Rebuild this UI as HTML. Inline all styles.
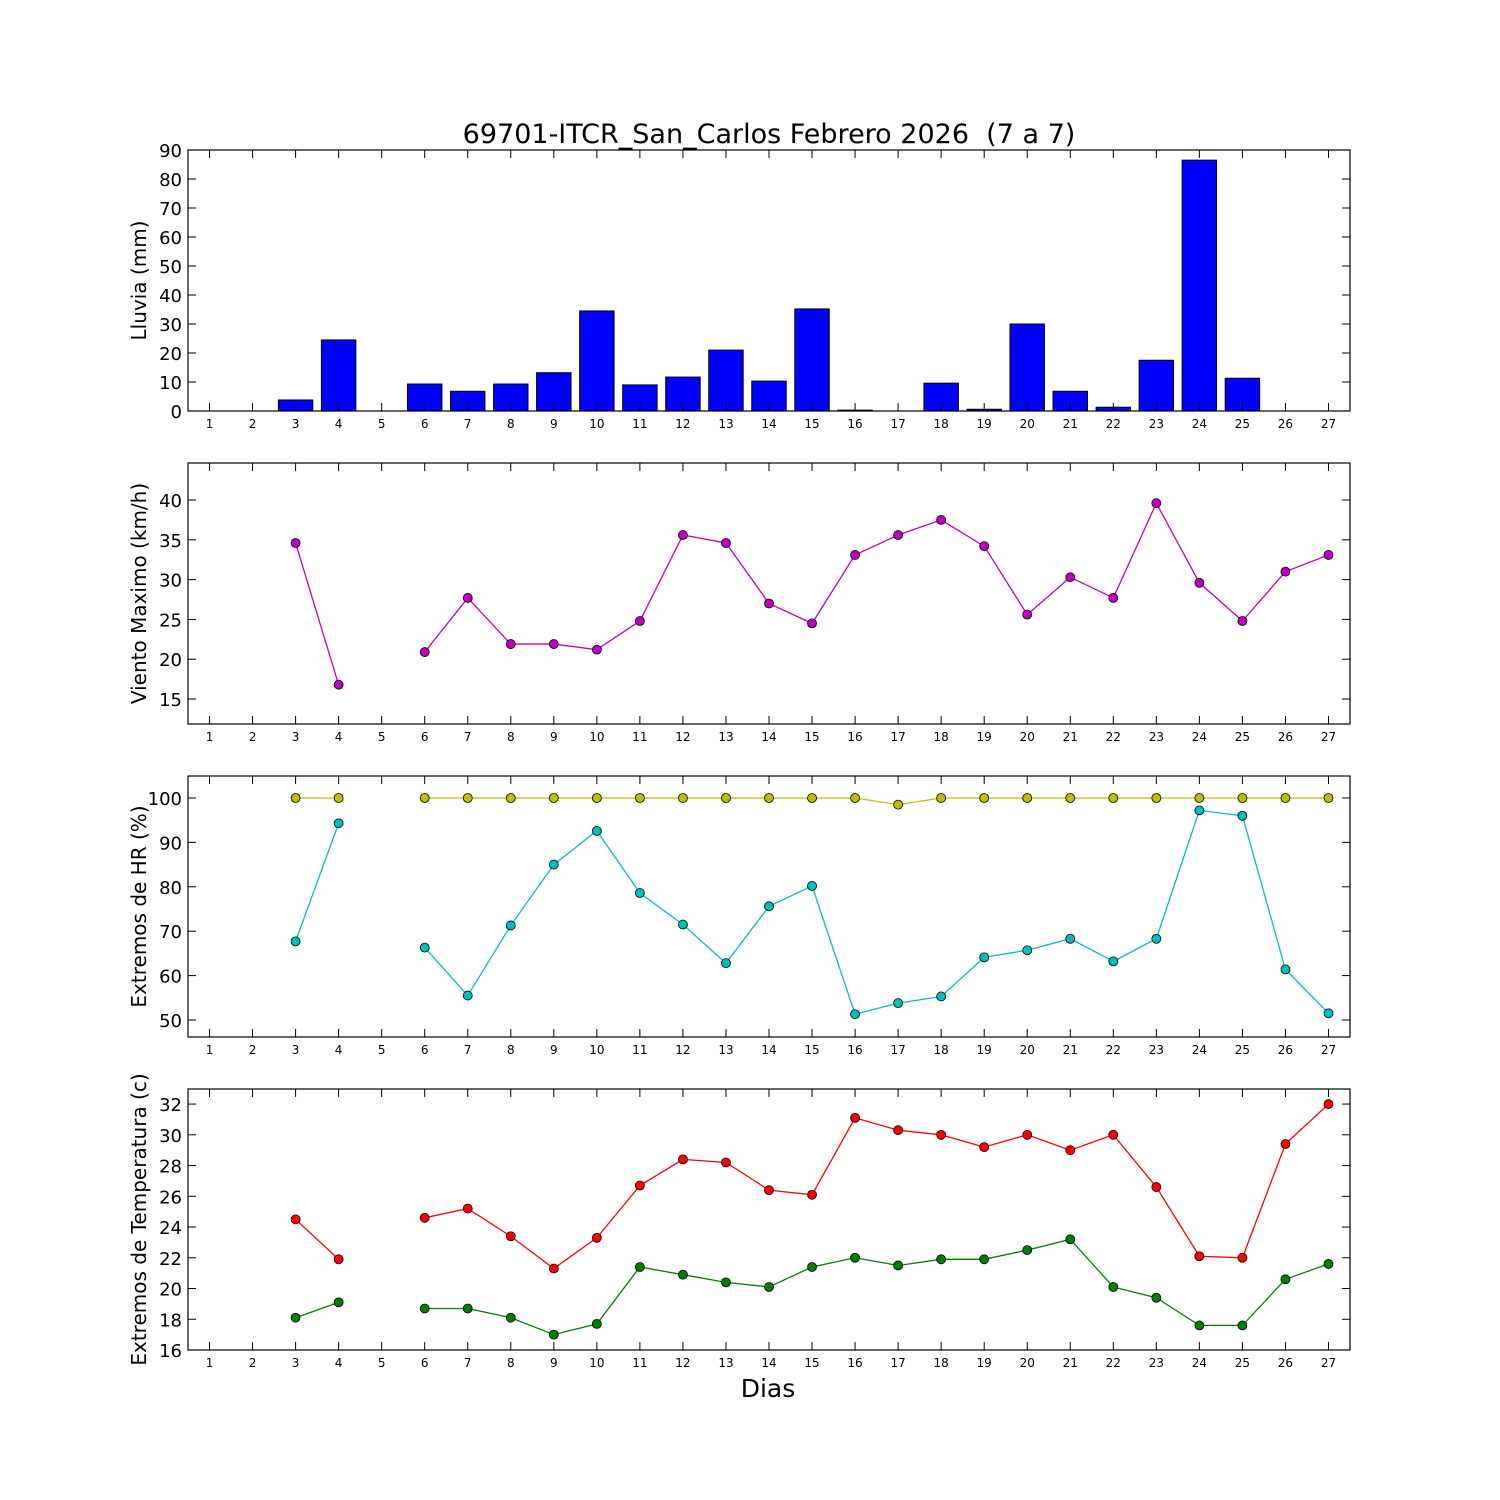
<!DOCTYPE html>
<html><head><meta charset="utf-8"><style>body{margin:0;background:#fff}svg{display:block}</style></head>
<body>
<svg id="chart" width="1500" height="1500" xmlns="http://www.w3.org/2000/svg" font-family="DejaVu Sans, Liberation Sans, sans-serif"></svg>
<script>
const days=[1,2,3,4,5,6,7,8,9,10,11,12,13,14,15,16,17,18,19,20,21,22,23,24,25,26,27];
const rain=[null,null,3.8,24.5,null,9.3,6.8,9.3,13.2,34.5,9,11.7,21,10.3,35.2,0.3,0,9.6,0.6,30,6.8,1.3,17.5,86.5,11.3,0,0];
const wind=[null,null,34.6,16.8,null,20.9,27.7,21.9,21.9,21.2,24.8,35.6,34.6,27,24.5,33.1,35.6,37.5,34.2,25.6,30.3,27.7,39.6,29.6,24.8,31,33.1];
const hrMax=[null,null,100,100,null,100,100,100,100,100,100,100,100,100,100,100,98.5,100,100,100,100,100,100,100,100,100,100];
const hrMin=[null,null,67.7,94.3,null,66.3,55.5,71.3,85,92.6,78.6,71.5,62.8,75.6,80.2,51.3,53.8,55.3,64.1,65.7,68.3,63.2,68.3,97.2,96,61.4,51.5];
const tMax=[null,null,24.5,21.9,null,24.6,25.2,23.4,21.3,23.3,26.7,28.4,28.2,26.4,26.1,31.1,30.3,30,29.2,30,29,30,26.6,22.1,22,29.4,32];
const tMin=[null,null,18.1,19.1,null,18.7,18.7,18.1,17,17.7,21.4,20.9,20.4,20.1,21.4,22,21.5,21.9,21.9,22.5,23.2,20.1,19.4,17.6,17.6,20.6,21.6];
const rainTicks=[0,10,20,30,40,50,60,70,80,90];
const windTicks=[15,20,25,30,35,40];
const hrTicks=[50,60,70,80,90,100];
const tTicks=[16,18,20,22,24,26,28,30,32];

const svg=document.getElementById('chart');const NS='http://www.w3.org/2000/svg';
function mk(tag,attrs,parent,text){const e=document.createElementNS(NS,tag);for(const k in attrs)e.setAttribute(k,attrs[k]);if(text!==undefined)e.textContent=text;(parent||svg).appendChild(e);return e;}
const X0=188,X1=1350;
const xs=d=>X0+(d-0.5)/27*(X1-X0);

function panel(name,top,ymin,ymax,ticks,label){
  const bot=top+261;
  const ys=v=>bot-(v-ymin)/(ymax-ymin)*261;
  const g=mk('g',{});
  
  
  const marks=mk('g',{},g);
  mk('rect',{x:X0,y:top,width:X1-X0,height:261,fill:'none',stroke:'#000','stroke-width':1.2},g);
  ticks.forEach(t=>{const y=ys(t);
    mk('line',{x1:X0,x2:X0+8,y1:y,y2:y,stroke:'#000'},g);
    mk('line',{x1:X1,x2:X1-8,y1:y,y2:y,stroke:'#000'},g);
    const tl=mk('text',{x:X0-6,y:y+7,'text-anchor':'end','font-size':18},g,String(t));
    
    
  });
  days.forEach(d=>{const x=xs(d);
    mk('line',{x1:x,x2:x,y1:bot,y2:bot-8,stroke:'#000'},g);
    mk('line',{x1:x,x2:x,y1:top,y2:top+8,stroke:'#000'},g);
    const tl=mk('text',{x:x,y:bot+17,'text-anchor':'middle','font-size':12},g,String(d));
    
    
  });
  const yl=mk('text',{x:0,y:0,transform:`translate(146,${top+130.5}) rotate(-90)`,'text-anchor':'middle','font-size':20},g,label);
  
  
  return {ys,marks,bot};
}
function series(p,vals,color,name){
  let seg=[];const segs=[];
  vals.forEach((v,i)=>{if(v===null){if(seg.length)segs.push(seg);seg=[];}else seg.push([xs(days[i]),p.ys(v)]);});
  if(seg.length)segs.push(seg);
  segs.forEach(s=>{const l=mk('polyline',{points:s.map(q=>q.join(',')).join(' '),fill:'none',stroke:color,'stroke-width':1.3},p.marks);
    
    });
  vals.forEach((v,i)=>{if(v===null)return;
    const c=mk('circle',{cx:xs(days[i]),cy:p.ys(v),r:4.5,fill:color,stroke:'#000','stroke-width':0.8},p.marks);
    
    });
}
const t=mk('text',{x:769,y:143,'text-anchor':'middle','font-size':27},svg,'69701-ITCR_San_Carlos Febrero 2026\u00a0 (7 a 7)');



const p1=panel('rain-panel',150,0,90,rainTicks,'Lluvia (mm)');
rain.forEach((v,i)=>{if(v===null||v===0)return;const x=xs(days[i]);
  const b=mk('rect',{x:x-0.4*43.04,y:p1.ys(v),width:0.8*43.04,height:p1.bot-p1.ys(v),fill:'#0000ff',stroke:'#000','stroke-width':1},p1.marks);
  
  });
const p2=panel('wind-panel',463,11.86,44.65,windTicks,'Viento Maximo (km/h)');
series(p2,wind,'#bf00bf','wind');
const p3=panel('humidity-panel',776,46.17,104.95,hrTicks,'Extremos de HR (%)');
series(p3,hrMax,'#bfbf00','hr-max');
series(p3,hrMin,'#00bfbf','hr-min');
const p4=panel('temperature-panel',1089,16,32.98,tTicks,'Extremos de Temperatura (c)');
series(p4,tMax,'#ff0000','temp-max');
series(p4,tMin,'#008000','temp-min');
const xl=mk('text',{x:768,y:1397,'text-anchor':'middle','font-size':25},svg,'Dias');


</script>
</body></html>
